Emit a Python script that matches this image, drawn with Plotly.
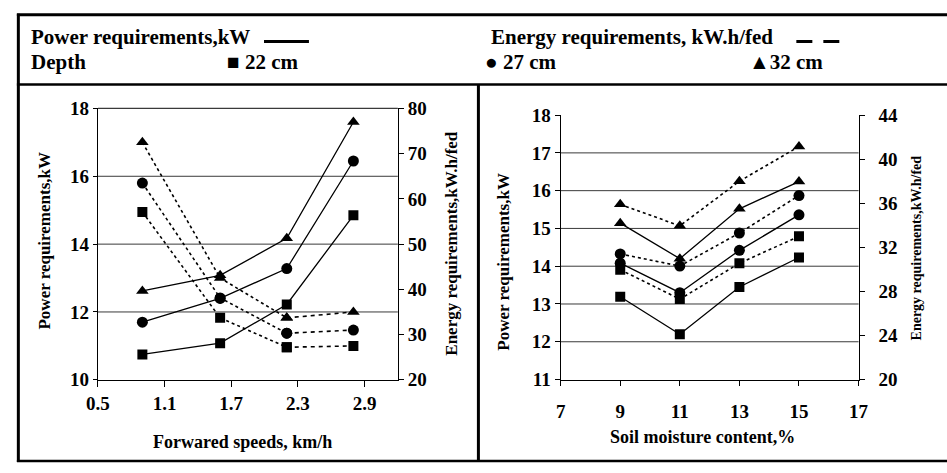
import plotly.graph_objects as go

# ---------------- data ----------------
speeds = [0.9, 1.6, 2.2, 2.8]            # km/h
moisture = [9, 11, 13, 15]               # %
depth_labels = ["22 cm", "27 cm", "32 cm"]

# left panel: forward speed
speed_power_22 = [10.75, 11.08, 12.22, 14.85]
speed_power_27 = [11.70, 12.40, 13.28, 16.45]
speed_power_32 = [12.62, 13.08, 14.17, 17.60]
speed_energy_22 = [57.1, 33.7, 27.2, 27.5]
speed_energy_27 = [63.5, 38.1, 30.3, 31.0]
speed_energy_32 = [72.5, 42.5, 33.7, 35.0]

# right panel: soil moisture
moist_power_22 = [13.19, 12.20, 13.45, 14.23]
moist_power_27 = [14.08, 13.30, 14.42, 15.36]
moist_power_32 = [15.14, 14.20, 15.52, 16.24]
moist_energy_22 = [29.97, 27.30, 30.55, 33.00]
moist_energy_27 = [31.40, 30.30, 33.30, 36.70]
moist_energy_32 = [35.90, 33.95, 38.00, 41.15]

speed_ticks = [0.5, 1.1, 1.7, 2.3, 2.9]
left_grid = [12, 14, 16]
right_grid = [12, 13, 14, 15, 16, 17]

# ---------------- styling ----------------
W, H = 947, 473
FONT = "Liberation Serif, Times New Roman, serif"
symbols = ["square", "circle", "triangle-up"]
msizes = [10, 11, 11]
GRID = "#3a3a3a"

LEFT_X = (88, 395)      # pixel extent of left plot area
LEFT_Y = (103, 387)
RIGHT_X = (561.7, 866.7)
RIGHT_Y = (110, 386.7)


def px(x):
    return x / W


def py(y):
    return 1 - y / H


fig = go.Figure()

speed_power = [speed_power_22, speed_power_27, speed_power_32]
speed_energy = [speed_energy_22, speed_energy_27, speed_energy_32]
moist_power = [moist_power_22, moist_power_27, moist_power_32]
moist_energy = [moist_energy_22, moist_energy_27, moist_energy_32]

for i, lab in enumerate(depth_labels):
    mk = dict(symbol=symbols[i], size=msizes[i], color="black")
    fig.add_trace(go.Scatter(x=speeds, y=speed_power[i], xaxis="x", yaxis="y",
                             mode="lines+markers", name="Power " + lab,
                             line=dict(color="black", width=1.3), marker=mk,
                             showlegend=False))
    fig.add_trace(go.Scatter(x=speeds[:3], y=speed_energy[i][:3], xaxis="x", yaxis="y2",
                             mode="lines+markers", name="Energy " + lab,
                             line=dict(color="black", width=1.6, dash="dot"), marker=mk,
                             showlegend=False))
    fig.add_trace(go.Scatter(x=speeds[2:], y=speed_energy[i][2:], xaxis="x", yaxis="y2",
                             mode="lines+markers", name="Energy " + lab,
                             line=dict(color="black", width=1.6, dash="4px,4px"), marker=mk,
                             showlegend=False))
    fig.add_trace(go.Scatter(x=moisture, y=moist_power[i], xaxis="x2", yaxis="y3",
                             mode="lines+markers", name="Power " + lab,
                             line=dict(color="black", width=1.3), marker=mk,
                             showlegend=False))
    fig.add_trace(go.Scatter(x=moisture, y=moist_energy[i], xaxis="x2", yaxis="y4",
                             mode="lines+markers", name="Energy " + lab,
                             line=dict(color="black", width=1.6, dash="dot"), marker=mk,
                             showlegend=False))

tickfont = dict(family=FONT, size=19, color="black", weight="bold")
base = dict(showline=True, linecolor="black", linewidth=1.3, ticks="outside",
            tickcolor="black", tickwidth=1.3, zeroline=False, showgrid=False,
            tickfont=tickfont, fixedrange=True)

fig.update_layout(
    width=W, height=H,
    margin=dict(l=0, r=0, t=0, b=0),
    paper_bgcolor="white", plot_bgcolor="white",
    showlegend=False,
    xaxis=dict(base, domain=[px(LEFT_X[0]), px(LEFT_X[1])], range=[0.5, 3.2],
               tickvals=speed_ticks, tickformat=".1f", ticklen=6, anchor="y"),
    yaxis=dict(base, domain=[py(LEFT_Y[1]), py(LEFT_Y[0])], range=[10, 18], dtick=2,
               ticklen=4, anchor="x"),
    yaxis2=dict(base, overlaying="y", side="right", anchor="x", range=[20, 80],
                dtick=10, ticklen=5),
    xaxis2=dict(base, domain=[px(RIGHT_X[0]), px(RIGHT_X[1])], range=[7, 17], tick0=7,
                dtick=2, ticklen=5, anchor="y3", ticklabelstandoff=10),
    yaxis3=dict(base, domain=[py(RIGHT_Y[1]), py(RIGHT_Y[0])], range=[11, 18], dtick=1,
                ticklen=5, anchor="x2"),
    yaxis4=dict(base, overlaying="y3", side="right", anchor="x2", range=[20, 44],
                dtick=4, ticklen=5, ticklabelstandoff=10),
)

shapes = []
for v in left_grid:
    shapes.append(dict(type="line", xref="x domain", yref="y", x0=0, x1=1, y0=v, y1=v,
                       layer="below", line=dict(color=GRID, width=1)))
for v in right_grid:
    shapes.append(dict(type="line", xref="x2 domain", yref="y3", x0=0, x1=1, y0=v, y1=v,
                       layer="below", line=dict(color=GRID, width=1)))


def pline(x0, y0, x1, y1, w, dash=None, color="black"):
    ln = dict(color=color, width=w)
    if dash:
        ln["dash"] = dash
    return dict(type="line", xref="paper", yref="paper",
                x0=px(x0), x1=px(x1), y0=py(y0), y1=py(y1), line=ln)


shapes += [
    # top grid line of left panel (at the upper range limit)
    pline(LEFT_X[0], LEFT_Y[0], LEFT_X[1], LEFT_Y[0], 1.2, color=GRID),
    # frame
    pline(5, 5, 960, 5, 3),
    pline(6.5, 4, 6.5, 473, 3),
    pline(5, 78, 960, 78, 2.5),
    pline(477.5, 78, 477.5, 473, 3),
    pline(5, 472, 960, 472, 2.5),
    # legend line samples
    pline(258, 33, 304, 33, 3),
    pline(803, 33, 847, 33, 3, dash="16px,11px"),
]
fig.update_layout(shapes=shapes)


def ann(text, x, y, size, xanchor="left", angle=0):
    return dict(text=text, x=px(x), y=py(y), xref="paper", yref="paper",
                showarrow=False, xanchor=xanchor, yanchor="middle", textangle=angle,
                font=dict(family=FONT, size=size, color="black", weight="bold"))


annotations = [
    ann("Power requirements,kW", 17, 28, 21),
    ann("Energy requirements, kW.h/fed", 488, 28, 21),
    ann("Depth", 17, 54, 21),
    ann("■ " + depth_labels[0], 218, 54, 21),
    ann("● " + depth_labels[1], 482, 54, 21),
    ann("▲" + depth_labels[2], 752, 54, 21),
    ann("Forwared speeds, km/h", 236, 452, 18, xanchor="center"),
    ann("Power requirements,kW", 33, 241, 17, xanchor="center", angle=-90),
    ann("Energy requirements,kW.h/fed", 450, 244, 17, xanchor="center", angle=-90),
    ann("Soil moisture content,%", 707, 447, 18, xanchor="center"),
    ann("Power requirements,kW", 503, 263, 17, xanchor="center", angle=-90),
    ann("Energy requirements,kW.h/fed", 926, 249, 14, xanchor="center", angle=-90),
]
fig.update_layout(annotations=annotations)

fig.write_html(
    "out.html",
    config={"displayModeBar": False},
    post_script="document.body.style.margin='0';document.body.style.overflow='hidden';",
)
